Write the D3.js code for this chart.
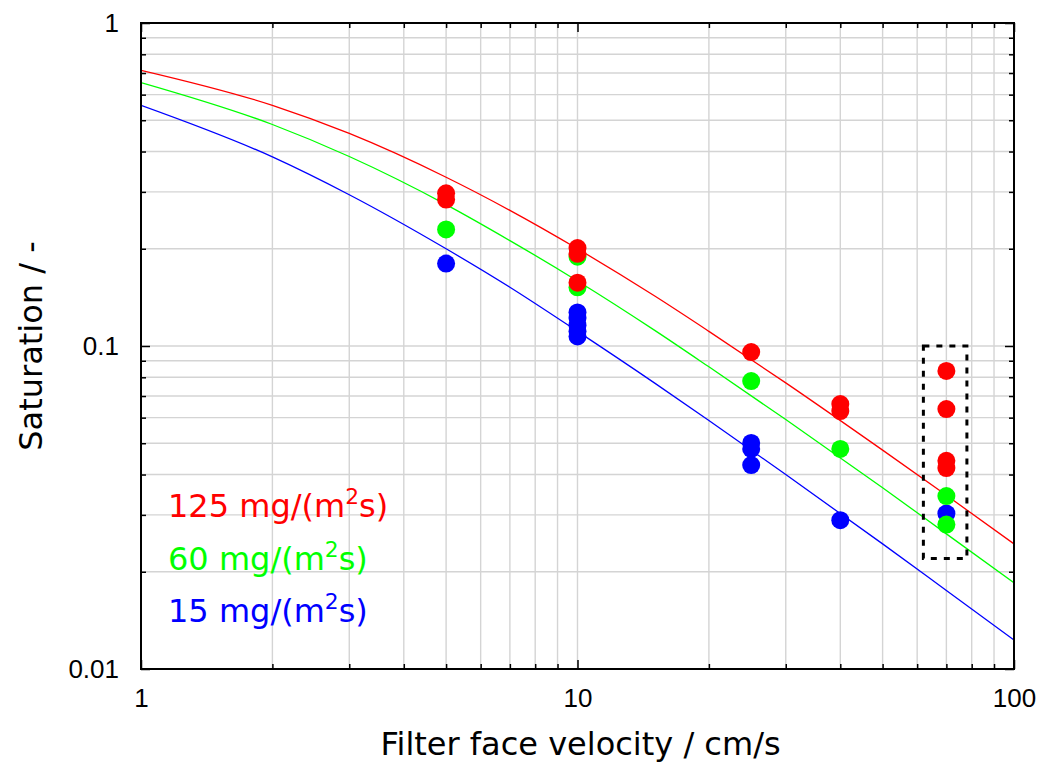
<!DOCTYPE html>
<html>
<head>
<meta charset="utf-8">
<script src="https://cdn.jsdelivr.net/npm/d3@7"></script>
<style>
  body { margin: 0; background: #fff; }
  text { font-family: "DejaVu Sans", sans-serif; }
  .tick text { font-family: "Liberation Sans", Arial, sans-serif; }
</style>
</head>
<body>
<svg id="chart" width="1045" height="762"></svg>
<script>
// Measured saturation at each filter face velocity (cm/s), per dust loading rate
const velocity125   = [5, 5, 10, 10, 10, 25, 40, 40, 70, 70, 70, 70];
const saturation125 = [0.297, 0.284, 0.201, 0.193, 0.157, 0.0958, 0.0661, 0.0629, 0.0837, 0.0638, 0.0441, 0.0419];

const velocity60    = [5, 10, 10, 25, 40, 70, 70];
const saturation60  = [0.2295, 0.189, 0.152, 0.0779, 0.048, 0.0343, 0.028];

const velocity15    = [5, 10, 10, 10, 10, 10, 25, 25, 25, 40, 70];
const saturation15  = [0.180, 0.127, 0.122, 0.116, 0.111, 0.107, 0.0501, 0.048, 0.0428, 0.0289, 0.0303];

// Fitted trend lines, sampled along the velocity range
const curveVelocity = [1, 2, 3, 5, 7, 10, 15, 20, 30, 50, 70, 100];
const curve125 = [0.714, 0.556, 0.455, 0.333, 0.263, 0.200, 0.143, 0.111, 0.0769, 0.0476, 0.0345, 0.0244];
const curve60  = [0.654, 0.485, 0.386, 0.274, 0.212, 0.159, 0.112, 0.0862, 0.0592, 0.0364, 0.0262, 0.0185];
const curve15  = [0.556, 0.385, 0.294, 0.200, 0.152, 0.111, 0.0769, 0.0588, 0.0400, 0.0244, 0.0175, 0.0123];

// Highlighted region around the 70 cm/s measurements
const boxVelocity   = [62, 78];
const boxSaturation = [0.022, 0.1];

const xTickValues = [1, 10, 100];
const xTickLabels = ["1", "10", "100"];
const yTickValues = [0.01, 0.1, 1];
const yTickLabels = ["0.01", "0.1", "1"];

const seriesRates  = ["125", "60", "15"];
const seriesColors = ["#ff0000", "#00ff00", "#0000ff"];

const W = 1045, H = 762;
const m = { left: 141, top: 23, right: 31, bottom: 93 };
const pw = W - m.left - m.right, ph = H - m.top - m.bottom;

const svg = d3.select("#chart");
const x = d3.scaleLog().domain([1, 100]).range([m.left, m.left + pw]);
const y = d3.scaleLog().domain([0.01, 1]).range([m.top + ph, m.top]);

// minor positions: 2..9 times each power of ten inside the domain
function minors(lo, hi) {
  const out = [];
  for (let p = Math.floor(Math.log10(lo)); p < Math.ceil(Math.log10(hi)); p++) {
    for (let k = 2; k <= 9; k++) {
      const v = k * Math.pow(10, p);
      if (v > lo && v < hi) out.push(v);
    }
  }
  return out;
}
const xMinor = minors(1, 100);
const yMinor = minors(0.01, 1);

// grid
const grid = svg.append("g").attr("stroke", "#d4d4d4").attr("stroke-width", 1.4);
grid.selectAll("line.gx").data(xMinor.concat([10])).join("line")
  .attr("x1", d => x(d)).attr("x2", d => x(d))
  .attr("y1", m.top).attr("y2", m.top + ph);
grid.selectAll("line.gy").data(yMinor.concat([0.1])).join("line")
  .attr("y1", d => y(d)).attr("y2", d => y(d))
  .attr("x1", m.left).attr("x2", m.left + pw);

// axes: major ticks with labels, minor ticks without, all pointing inward
function styleAxis(g) {
  g.select(".domain").remove();
  g.selectAll(".tick line").attr("stroke", "#000").attr("stroke-width", 1.5);
  g.selectAll(".tick text").attr("font-size", 26).attr("fill", "#000");
}
const fmtX = d => xTickLabels[xTickValues.indexOf(d)];
const fmtY = d => yTickLabels[yTickValues.indexOf(d)];

svg.append("g").attr("transform", `translate(0,${m.top + ph})`)
  .call(d3.axisBottom(x).tickValues(xTickValues).tickFormat(fmtX).tickSize(-9).tickPadding(20))
  .call(styleAxis);
svg.append("g").attr("transform", `translate(0,${m.top + ph})`)
  .call(d3.axisBottom(x).tickValues(xMinor).tickFormat("").tickSize(-5)).call(styleAxis);
svg.append("g").attr("transform", `translate(0,${m.top})`)
  .call(d3.axisTop(x).tickValues(xTickValues).tickFormat("").tickSize(-9)).call(styleAxis);
svg.append("g").attr("transform", `translate(0,${m.top})`)
  .call(d3.axisTop(x).tickValues(xMinor).tickFormat("").tickSize(-5)).call(styleAxis);

svg.append("g").attr("transform", `translate(${m.left},0)`)
  .call(d3.axisLeft(y).tickValues(yTickValues).tickFormat(fmtY).tickSize(-9).tickPadding(22))
  .call(styleAxis);
svg.append("g").attr("transform", `translate(${m.left},0)`)
  .call(d3.axisLeft(y).tickValues(yMinor).tickFormat("").tickSize(-5)).call(styleAxis);
svg.append("g").attr("transform", `translate(${m.left + pw},0)`)
  .call(d3.axisRight(y).tickValues(yTickValues).tickFormat("").tickSize(-9)).call(styleAxis);
svg.append("g").attr("transform", `translate(${m.left + pw},0)`)
  .call(d3.axisRight(y).tickValues(yMinor).tickFormat("").tickSize(-5)).call(styleAxis);

// clip for fitted lines
svg.append("clipPath").attr("id", "plotClip")
  .append("rect").attr("x", m.left).attr("y", m.top).attr("width", pw).attr("height", ph);

const line = d3.line().x(d => x(d[0])).y(d => y(d[1])).curve(d3.curveMonotoneX);
const curves = [curve125, curve60, curve15];
const lines = svg.append("g").attr("clip-path", "url(#plotClip)");
curves.forEach((c, i) => {
  lines.append("path")
    .datum(curveVelocity.map((v, j) => [v, c[j]]))
    .attr("d", line).attr("fill", "none")
    .attr("stroke", seriesColors[i]).attr("stroke-width", 1.3);
});

// measurement points (drawn blue, then green, then red on top)
const pointSets = [
  [velocity15, saturation15, seriesColors[2]],
  [velocity60, saturation60, seriesColors[1]],
  [velocity125, saturation125, seriesColors[0]]
];
pointSets.forEach(([vs, ss, col]) => {
  svg.append("g").selectAll("circle")
    .data(vs.map((v, j) => [v, ss[j]]))
    .join("circle")
    .attr("cx", d => x(d[0])).attr("cy", d => y(d[1]))
    .attr("r", 9).attr("fill", col);
});

// dashed highlight box
svg.append("rect")
  .attr("x", x(boxVelocity[0])).attr("y", y(boxSaturation[1]))
  .attr("width", x(boxVelocity[1]) - x(boxVelocity[0]))
  .attr("height", y(boxSaturation[0]) - y(boxSaturation[1]))
  .attr("fill", "none").attr("stroke", "#000")
  .attr("stroke-width", 3).attr("stroke-dasharray", "6,7");

// frame
svg.append("rect").attr("x", m.left).attr("y", m.top).attr("width", pw).attr("height", ph)
  .attr("fill", "none").attr("stroke", "#000").attr("stroke-width", 2);

// legend labels
const legendBase = [517, 570, 622];
seriesRates.forEach((r, i) => {
  const t = svg.append("text").attr("x", 168).attr("y", legendBase[i])
    .attr("font-size", 32).attr("fill", seriesColors[i]);
  t.append("tspan").text(`${r} mg/(m`);
  t.append("tspan").attr("font-size", "0.68em").attr("dy", "-0.62em").text("2");
  t.append("tspan").attr("dy", "0.42em").text("s)");
});

// axis titles
svg.append("text").attr("x", m.left + pw / 2 + 3).attr("y", 755)
  .attr("text-anchor", "middle").attr("font-size", 32).attr("fill", "#000")
  .text("Filter face velocity / cm/s");
svg.append("text")
  .attr("transform", `translate(42,${m.top + ph / 2}) rotate(-90)`)
  .attr("text-anchor", "middle").attr("font-size", 32).attr("fill", "#000")
  .text("Saturation / -");
</script>
</body>
</html>
